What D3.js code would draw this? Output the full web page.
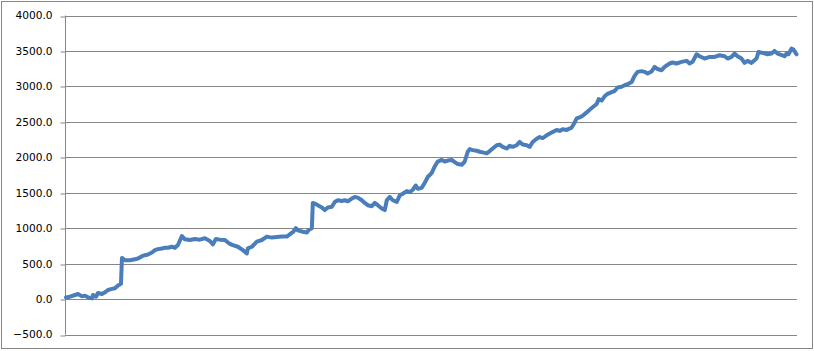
<!DOCTYPE html>
<html>
<head>
<meta charset="utf-8">
<script src="https://cdn.jsdelivr.net/npm/d3@7/dist/d3.min.js"></script>
<style>
  html, body { margin: 0; padding: 0; background: #fff; }
  svg { display: block; }
</style>
</head>
<body>
<svg id="chart" width="814" height="351"></svg>
<script>
// ---- data ----
const trades = [0,4,9,12,16,19,22,26,27,30,32,36,39,42,46,49,52,55,56,59,64,69,72,76,79,82,86,89,92,96,99,102,106,109,112,116,119,124,129,134,139,144,147,150,154,159,163,167,172,177,181,182,186,191,196,201,206,211,216,221,224,227,230,232,237,241,243,246,247,249,252,256,259,262,266,269,272,276,279,282,286,289,292,296,299,302,306,309,312,316,319,321,324,327,331,334,337,341,344,347,350,352,356,359,362,366,369,372,376,379,382,386,389,392,396,399,402,404,407,411,414,417,421,424,427,431,434,437,441,444,447,451,454,457,461,464,467,471,474,477,481,486,491,494,497,501,506,509,511,514,517,521,524,527,531,533,536,539,542,546,549,552,556,559,562,566,569,572,576,579,582,586,589,592,596,599,604,607,611,616,621,624,627,631,634,639,644,649,654,659,662,666,669,672,676,679,682,686,689,691,693,697,702,706,709,712,717,719,721,723,726,728,731];
const pnl = [24,33,57,71,38,48,24,10,57,33,86,71,95,128,143,152,190,214,580,547,547,562,571,605,619,628,657,690,704,714,723,723,738,723,762,890,843,833,848,838,857,819,771,848,838,833,786,762,738,690,643,714,738,810,833,881,867,876,881,881,914,943,1000,968,950,940,977,1000,1356,1347,1324,1292,1255,1292,1301,1370,1394,1384,1394,1380,1417,1440,1431,1394,1356,1324,1310,1356,1324,1278,1255,1394,1440,1394,1370,1463,1486,1523,1509,1542,1602,1556,1569,1640,1722,1780,1871,1940,1963,1940,1954,1963,1931,1904,1894,1940,2078,2115,2101,2092,2078,2069,2055,2087,2124,2170,2179,2147,2124,2161,2147,2170,2216,2179,2170,2147,2216,2262,2285,2271,2310,2348,2386,2371,2395,2386,2419,2490,2548,2562,2586,2633,2671,2705,2752,2820,2800,2860,2895,2920,2935,2985,2995,3016,3030,3062,3148,3205,3215,3205,3181,3210,3276,3245,3228,3276,3323,3337,3323,3346,3360,3323,3346,3453,3425,3393,3416,3416,3439,3425,3393,3416,3463,3425,3393,3332,3360,3332,3369,3393,3486,3472,3453,3463,3500,3463,3439,3425,3463,3453,3533,3519,3453];
const yTicks = [-500,0,500,1000,1500,2000,2500,3000,3500,4000];

// ---- chart ----
const svg = d3.select("#chart");
const W = 814, H = 351;
const plotLeft = 65, plotRight = 797, plotTop = 15.5, plotBottom = 334.5;

// chart border
svg.append("rect")
  .attr("x", 1.5).attr("y", 1.5).attr("width", W - 3).attr("height", H - 4)
  .attr("fill", "#fff").attr("stroke", "#868686").attr("stroke-width", 1);

const y = d3.scaleLinear().domain([-500, 4000]).range([plotBottom, plotTop]);
const x = d3.scaleLinear().domain([0, d3.max(trades)]).range([66, 796.5]);

// gridlines
svg.append("g").selectAll("line").data(yTicks).join("line")
  .attr("x1", plotLeft).attr("x2", plotRight)
  .attr("y1", d => Math.round(y(d)) + 0.5).attr("y2", d => Math.round(y(d)) + 0.5)
  .attr("stroke", "#868686").attr("stroke-width", 1);

// y axis
const yAxis = d3.axisLeft(y).tickValues(yTicks).tickSize(5).tickPadding(8)
  .tickFormat(d3.format(".1f"));
const ag = svg.append("g").attr("transform", `translate(${plotLeft + 0.5},0)`).call(yAxis);
ag.attr("font-size", null).attr("font-family", null);
ag.select(".domain").attr("stroke", "#868686").attr("d", `M0,${plotTop}V${plotBottom}`);
ag.selectAll(".tick line").attr("stroke", "#868686")
  .attr("transform", function(d){ const v = y(d); return `translate(0,${Math.round(v)+0.5 - v})`; });
ag.selectAll(".tick text")
  .style("font-family", "'DejaVu Sans', Verdana, sans-serif")
  .style("font-size", "10.6px").attr("fill", "#000");

// line
const data = trades.map((t, i) => [t, pnl[i]]);
svg.append("path").datum(data)
  .attr("fill", "none")
  .attr("stroke", "#4a7ebb")
  .attr("stroke-width", 4)
  .attr("stroke-linejoin", "round")
  .attr("stroke-linecap", "round")
  .attr("d", d3.line().x(d => x(d[0])).y(d => y(d[1])));
</script>
</body>
</html>
